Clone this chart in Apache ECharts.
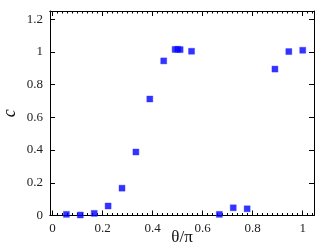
<!DOCTYPE html>
<html><head><meta charset="utf-8">
<script src="https://cdn.jsdelivr.net/npm/echarts@6/dist/echarts.min.js"></script>
<style>html,body{margin:0;padding:0;background:#fff}#c{width:332px;height:250px}</style>
</head><body><div id="c"></div>
<script>
const theta = [0.0556,0.1111,0.1667,0.2222,0.2778,0.3333,0.3889,0.4444,0.49,0.50,0.51,0.5556,0.6667,0.7222,0.7778,0.8889,0.9444,1.0];
const cvals = [0.007,0.003,0.013,0.058,0.167,0.388,0.712,0.945,1.015,1.016,1.014,1.004,0.007,0.047,0.041,0.895,1.002,1.010];
const xTicks = [0,0.2,0.4,0.6,0.8,1];
const xMinor = [];
for (let i=0;i<=52;i++){ const v=+(i*0.02).toFixed(2); if (Math.abs(v*5-Math.round(v*5))>1e-6) xMinor.push(v); }
const yTicks = [0,0.2,0.4,0.6,0.8,1,1.2];
const xRange=[-0.01,1.045], yRange=[0,1.25];
const font='"Liberation Serif","DejaVu Serif",serif';
function xa(pos, vals, len, labels, extra){
  return Object.assign({type:'value',position:pos,min:xRange[0],max:xRange[1],
    axisLine:{show:true,onZero:false,lineStyle:{color:'#000',width:1}},
    axisTick:{show:true,inside:true,length:len,customValues:vals,lineStyle:{color:'#000'}},
    axisLabel:{show:labels,customValues:xTicks,margin:7,fontFamily:font,fontSize:13,color:'#222',formatter:v=>String(+v.toFixed(1))},
    splitLine:{show:false}},extra||{});
}
function ya(pos, labels, extra){
  return Object.assign({type:'value',position:pos,min:yRange[0],max:yRange[1],
    axisLine:{show:true,onZero:false,lineStyle:{color:'#000',width:1}},
    axisTick:{show:true,inside:true,length:5,customValues:yTicks,lineStyle:{color:'#000'}},
    axisLabel:{show:labels,customValues:yTicks,margin:7,fontFamily:font,fontSize:13,color:'#222',formatter:v=>String(+v.toFixed(1))},
    splitLine:{show:false}},extra||{});
}
const chart=echarts.init(document.getElementById('c'));
chart.setOption({
  animation:false,
  grid:{left:50,right:18,top:11,bottom:34.5,containLabel:false,outerBoundsMode:'none'},
  xAxis:[
    xa('bottom',xTicks,5,true,{name:'θ/π',nameLocation:'middle',nameGap:14,nameMoveOverlap:false,nameTextStyle:{fontFamily:font,fontSize:17,color:'#111'}}),
    xa('bottom',xMinor,2.5,false),
    xa('top',xTicks,5,false),
    xa('top',xMinor,2.5,false)
  ],
  yAxis:[
    ya('left',true,{name:'c',nameLocation:'middle',nameGap:31,nameMoveOverlap:false,nameRotate:90,nameTextStyle:{fontFamily:font,fontSize:18,fontStyle:'italic',color:'#111'}}),
    ya('right',false)
  ],
  series:[{type:'scatter',xAxisIndex:0,yAxisIndex:0,symbol:'rect',symbolSize:6,
    itemStyle:{color:'#0000ff',borderColor:'#3030ff',borderWidth:0.5},
    data:theta.map((t,i)=>[t,cvals[i]])}]
});
</script></body></html>
